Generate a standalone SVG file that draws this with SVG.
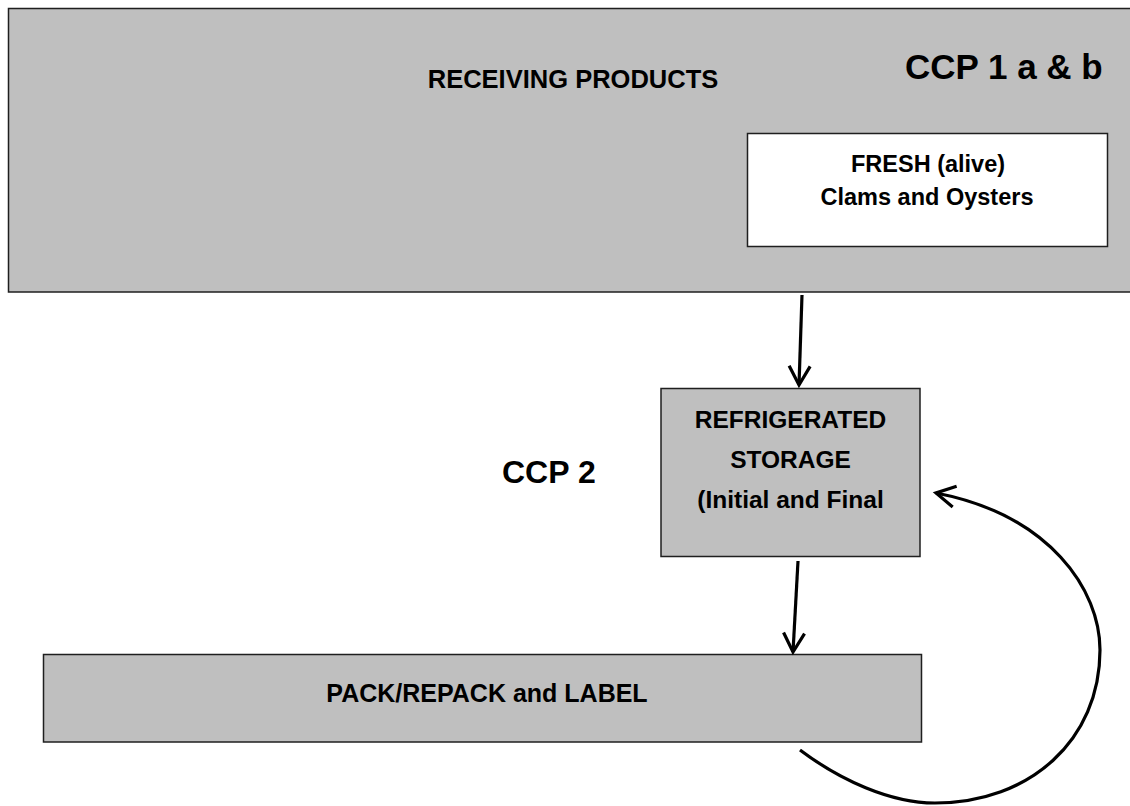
<svg xmlns="http://www.w3.org/2000/svg" width="1130" height="806" viewBox="0 0 1130 806">
<style>
.box{fill:#BFBFBF;stroke:#1f1f1f;stroke-width:1.5}
.wbox{fill:#FFFFFF;stroke:#1f1f1f;stroke-width:1.5}
text{font-family:"Liberation Sans",Arial,sans-serif;font-weight:bold;fill:#000}
.c{text-anchor:middle}
.conn{fill:none;stroke:#000;stroke-width:3.2}
</style>
<defs>
<marker id="arr" markerUnits="userSpaceOnUse" viewBox="-24 -14 28 28" refX="0" refY="0" markerWidth="28" markerHeight="28" orient="auto" overflow="visible">
<path d="M-19,-10.5 L0,0 L-19,10.5" fill="none" stroke="#000" stroke-width="3.2" stroke-linejoin="miter"/>
</marker>
</defs>
<rect width="1130" height="806" fill="#FFFFFF"/>
<g id="receiving">
<rect class="box" x="8.5" y="8.5" width="1130" height="283.5"/>
<text class="c" x="573" y="88" font-size="25.5">RECEIVING PRODUCTS</text>
<text x="905" y="79" font-size="35">CCP 1 a &amp; b</text>
</g>
<g id="fresh">
<rect class="wbox" x="747.5" y="133.5" width="360" height="113"/>
<text class="c" x="928" y="172" font-size="23.5">FRESH (alive)</text>
<text class="c" x="927" y="205" font-size="23.5">Clams and Oysters</text>
</g>
<g id="storage">
<rect class="box" x="661" y="388.5" width="259" height="168"/>
<text class="c" x="790.5" y="428" font-size="24.5">REFRIGERATED</text>
<text class="c" x="790.5" y="468" font-size="24.5">STORAGE</text>
<text class="c" x="790.5" y="508" font-size="24.5">(Initial and Final</text>
</g>
<g id="ccp2">
<text x="502" y="483" font-size="32">CCP 2</text>
</g>
<g id="pack">
<rect class="box" x="43.5" y="654.5" width="878" height="87.5"/>
<text class="c" x="487" y="702" font-size="25">PACK/REPACK and LABEL</text>
</g>
<g id="connectors">
<path class="conn" d="M802,295 L799,385" marker-end="url(#arr)"/>
<path class="conn" d="M798,561 L793,652" marker-end="url(#arr)"/>
<path class="conn" d="M800,750 C840,780 890,803 935,803 C1030,803 1100,740 1100,650 C1100,590 1050,515 936,493" marker-end="url(#arr)"/>
</g>
</svg>
